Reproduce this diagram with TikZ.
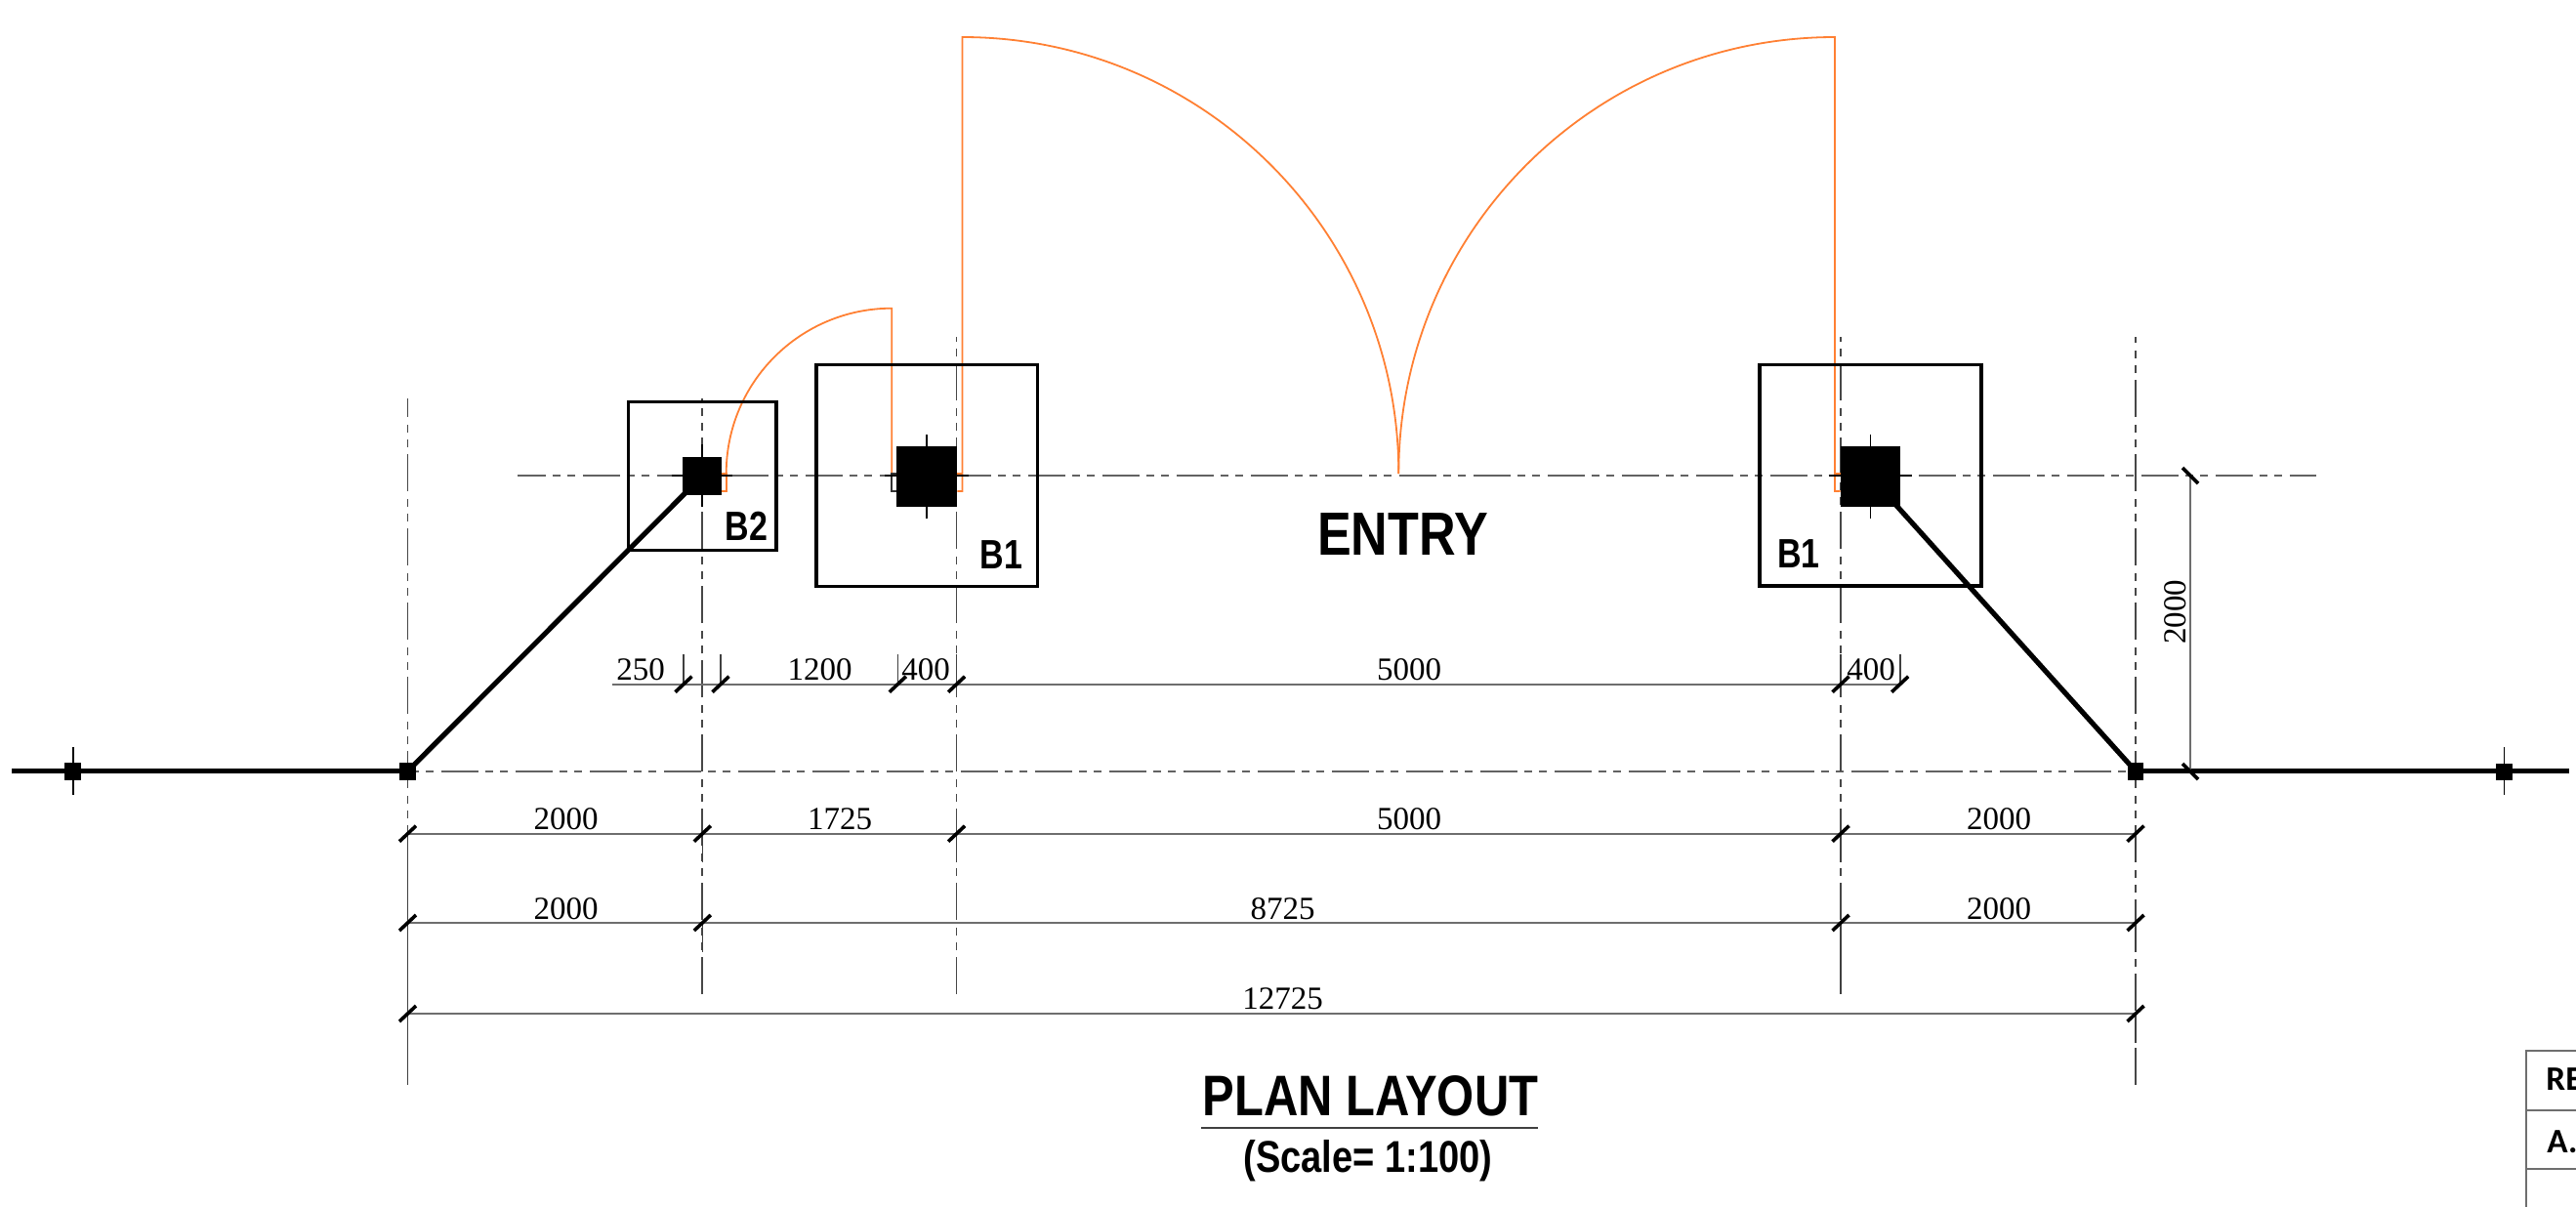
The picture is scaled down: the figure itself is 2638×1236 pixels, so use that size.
\documentclass[tikz,border=0pt]{standalone}
\usepackage{fontspec}
\setmainfont{Liberation Serif}
\newfontfamily\nb[FakeStretch=0.81]{Liberation Sans}
\newfontfamily\nc[FakeStretch=0.835]{Liberation Sans}
\newfontfamily\cb{Carlito}
\definecolor{door}{HTML}{FF8033}
\definecolor{axisgray}{HTML}{626262}
\definecolor{dimgray}{HTML}{6E6E6E}
\tikzset{
  door/.style={draw=door,line width=0.9pt},
  axisline/.style={draw=axisgray,line width=0.95pt,dash pattern=on 19pt off 3.5pt on 4pt off 3.5pt on 4pt off 4pt},
  gridline/.style={draw=black!72,line width=0.85pt,dash pattern=on 19pt off 3.5pt on 4pt off 3.5pt on 4pt off 4pt},
  extline/.style={draw=black!75,line width=0.8pt},
  dimline/.style={draw=dimgray,line width=1.05pt},
  slash/.style={draw=black,line width=1.8pt},
  footing/.style={draw=black,line width=1.65pt},
  column/.style={fill=black},
  wall/.style={draw=black,line width=2.6pt},
  cross/.style={draw=black,line width=0.95pt},
  dimtext/.style={font=\fontsize{16.5}{18}\selectfont,inner sep=0pt,anchor=base},
  marktext/.style={font=\nb\bfseries\fontsize{21}{24}\selectfont,inner sep=0pt,anchor=base},
  tabletext/.style={font=\cb\bfseries\fontsize{17.6}{20}\selectfont,inner sep=0pt,anchor=base west},
}
\newcommand{\fslash}[2]{\draw[slash] (#1-8.5,#2+8) -- (#1+8.5,#2-8);}
\begin{document}
\begin{tikzpicture}[x=0.5pt,y=-0.5pt]
\useasboundingbox (0,0) rectangle (2638,1236);
\clip (0,0) rectangle (2638,1236);
\fill[white] (0,0) rectangle (2638,1236);
% axes
\draw[axisline,dash phase=4.6pt] (530,487.3) -- (2372,487.3);
\draw[axisline,dash phase=25pt] (426,789.7) -- (2178,789.7);
% grid lines
\draw[gridline] (417.5,1110.5) -- (417.5,408);
\draw[gridline] (719.3,1018) -- (719.3,408);
\draw[gridline] (979.6,1018) -- (979.6,345);
\draw[gridline] (1885,1018) -- (1885,345);
\draw[gridline] (2187,1110.5) -- (2187,345);
% solid witness stubs
\draw[extline] (417.5,853.7) -- (417.5,1110.5);
\draw[extline] (719.3,853.7) -- (719.3,883) (719.3,945) -- (719.3,975);
\draw[extline] (979.6,853.7) -- (979.6,883) (979.6,670) -- (979.6,700.7);
\draw[extline] (1885,853.7) -- (1885,883) (1885,945) -- (1885,1018) (1885,670) -- (1885,700.7);
\draw[extline] (2187,853.7) -- (2187,883) (2187,945) -- (2187,975) (2187,1038) -- (2187,1068);
\draw[extline] (700,670) -- (700,700.7) (738,670) -- (738,700.7) (919.3,670) -- (919.3,700.7) (1945.7,670) -- (1945.7,700.7);
% doors
\draw[door] (743.7,485) .. controls (743.7,391.3) and (819.6,315.7) .. (913.3,315.7) -- (913.3,485);
\draw[door] (739,485) -- (743.7,485) -- (743.7,503) -- (739,503);
\draw[draw=black!80,line width=0.8pt] (918.3,485) -- (912.9,485) -- (912.9,503) -- (918.3,503);
\draw[door] (1432.3,485) .. controls (1432.3,238.1) and (1232.2,38) .. (985.5,38) -- (985.5,503) -- (980.3,503);
\draw[door] (980.3,485) -- (985.5,485);
\draw[door] (1432.3,485) .. controls (1432.3,238.1) and (1632,38) .. (1879,38) -- (1879,503) -- (1884.7,503);
\draw[door] (1879,485) -- (1884.7,485);
% footings
\draw[footing] (643.3,411.7) rectangle (795,563.3);
\draw[footing] (836,373.7) rectangle (1062.7,600.3);
\draw[footing] (1802,373.5) rectangle (2029,600);
% walls
\draw[wall] (12,789.7) -- (417.5,789.7);
\draw[wall] (2187,789.7) -- (2631,789.7);
\draw[wall] (417.5,789.7) -- (719.3,487.3);
\draw[wall] (1915.5,487.3) -- (1943,518.7) -- (2187,789.7);
% column crosses
\draw[cross] (687.7,487.3) -- (750,487.3) (719.3,455) -- (719.3,519);
\draw[cross] (906,487.3) -- (991.7,487.3) (949.3,445) -- (949.3,530.7);
\draw[cross] (1872.7,487.3) -- (1957.7,487.3) (1915.5,444.5) -- (1915.5,530.7);
\draw[cross] (74.7,765) -- (74.7,814) (2564.5,765) -- (2564.5,814);
% columns
\fill[column] (699.3,467.7) rectangle (739,507);
\fill[column] (918.3,456.7) rectangle (980.3,518.7);
\fill[column] (1884.7,456.7) rectangle (1946.3,518.7);
\fill[column] (66,781) rectangle (83.3,798.7);
\fill[column] (408.7,781) rectangle (425.7,798.7);
\fill[column] (2179,781) rectangle (2195.4,798.7);
\fill[column] (2556.2,781.5) rectangle (2573,798.5);
% dimension lines
\draw[dimline] (627,700.7) -- (1946,700.7);
\draw[dimline] (417.5,853.7) -- (2187,853.7);
\draw[dimline] (417.5,945) -- (2187,945);
\draw[dimline] (417.5,1038) -- (2187,1038);
\draw[dimline] (2243.4,487.3) -- (2243.4,790);
% slashes
\fslash{700}{700.7}\fslash{738}{700.7}\fslash{919.3}{700.7}\fslash{979.6}{700.7}\fslash{1885}{700.7}\fslash{1945.7}{700.7}
\fslash{417.5}{853.7}\fslash{719.3}{853.7}\fslash{979.6}{853.7}\fslash{1885}{853.7}\fslash{2187}{853.7}
\fslash{417.5}{945}\fslash{719.3}{945}\fslash{1885}{945}\fslash{2187}{945}
\fslash{417.5}{1038}\fslash{2187}{1038}
\draw[slash] (2235,479) -- (2251,495);
\draw[slash] (2235,782) -- (2251,798);
% dimension labels
\node[dimtext] (d250) at (656,696) {250};
\node[dimtext] (d1200) at (839.5,696) {1200};
\node[dimtext] (d400a) at (948,696) {400};
\node[dimtext] (d5000a) at (1443,696) {5000};
\node[dimtext] (d400b) at (1916,696) {400};
\node[dimtext] (d2000a) at (579.6,849) {2000};
\node[dimtext] (d1725) at (860,849) {1725};
\node[dimtext] (d5000b) at (1443,849) {5000};
\node[dimtext] (d2000b) at (2047,849) {2000};
\node[dimtext] (d2000c) at (579.6,941) {2000};
\node[dimtext] (d8725) at (1313.6,941) {8725};
\node[dimtext] (d2000d) at (2047,941) {2000};
\node[dimtext] (d12725) at (1313.6,1033) {12725};
\node[dimtext,rotate=90] (d2000e) at (2238,626.7) {2000};
% marks
\node[marktext] (b2) at (764.5,553) {B2};
\node[marktext] (b1a) at (1025.5,582.7) {B1};
\node[marktext] (b1b) at (1842,581.7) {B1};
\node[inner sep=0pt,anchor=base,font=\nc\bfseries\fontsize{31.2}{34}\selectfont] (entry) at (1436.5,568.7) {ENTRY};
\node[inner sep=0pt,anchor=base,font=\nc\bfseries\fontsize{29.3}{32}\selectfont] (title) at (1403.5,1142.7) {PLAN LAYOUT};
\draw[draw=black!75,line width=1.1pt] (1230,1155) -- (1575,1155);
\node[inner sep=0pt,anchor=base,font=\nc\bfseries\fontsize{22.8}{26}\selectfont] (scale) at (1401,1200) {(Scale= 1:100)};
% table
\draw[draw=dimgray,line width=1pt] (2638,1076) -- (2587.3,1076) -- (2587.3,1236);
\draw[draw=dimgray,line width=1pt] (2587.3,1136.7) -- (2638,1136.7) (2587.3,1197) -- (2638,1197);
\node[tabletext] (re) at (2607,1116) {RE};
\node[tabletext] (a) at (2608,1180) {A.};
\end{tikzpicture}
\end{document}
